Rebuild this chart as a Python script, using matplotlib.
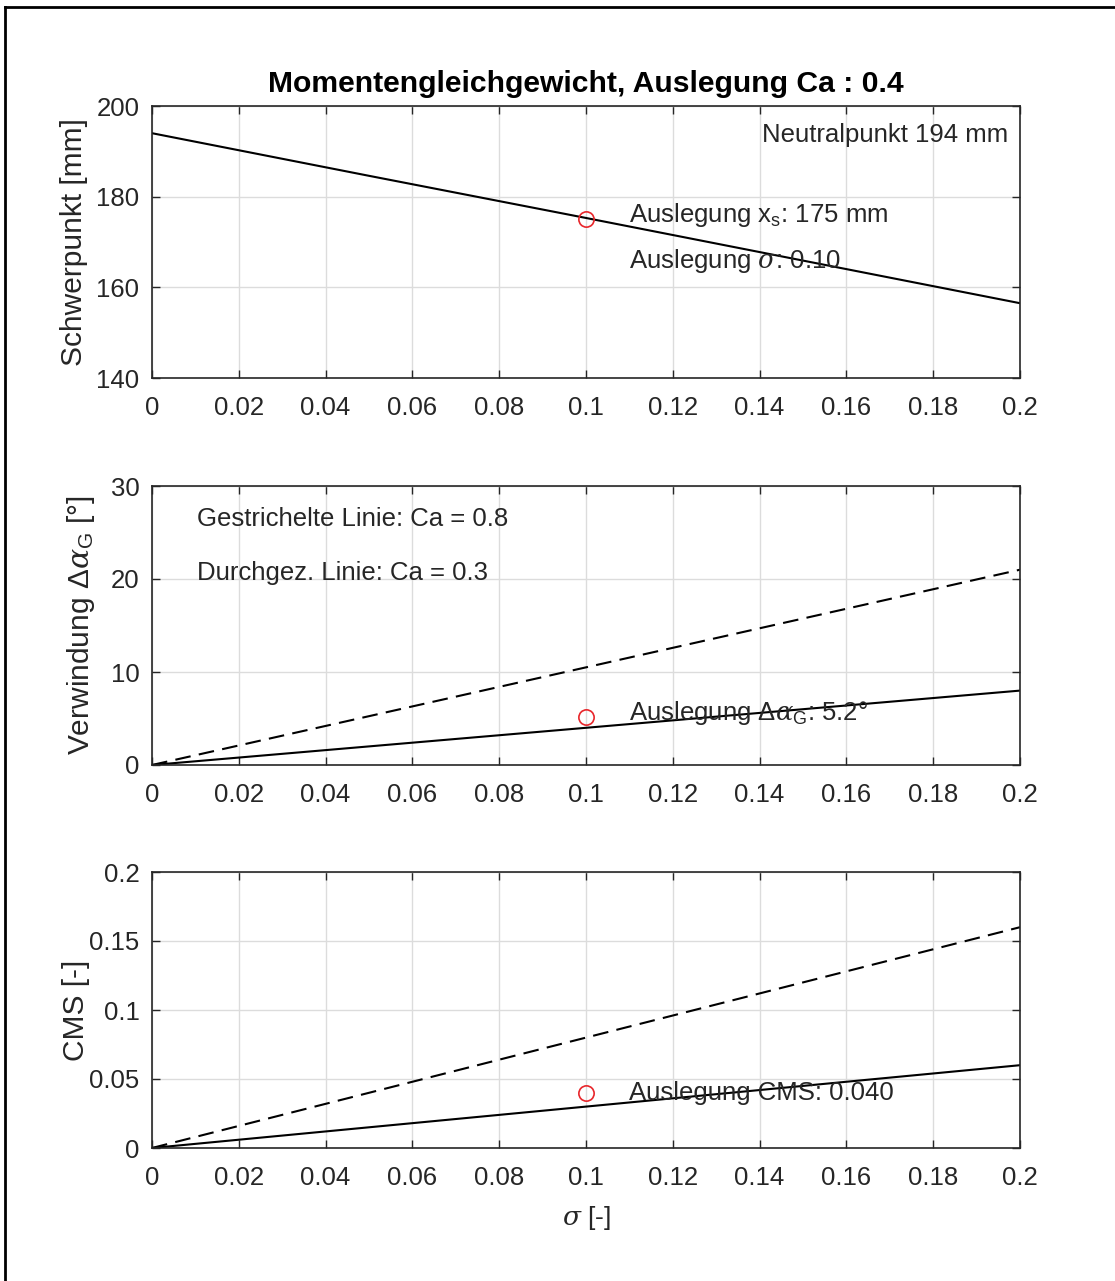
import numpy as np
import matplotlib
matplotlib.use('Agg')
import matplotlib.pyplot as plt
from matplotlib.lines import Line2D
from matplotlib.ticker import FuncFormatter

plt.rcParams['font.family'] = ['Liberation Sans', 'DejaVu Sans']
plt.rcParams['mathtext.fontset'] = 'custom'
plt.rcParams['mathtext.rm'] = 'Liberation Sans'
plt.rcParams['mathtext.sf'] = 'Liberation Sans'
plt.rcParams['mathtext.it'] = 'DejaVu Serif:italic'
plt.rcParams['mathtext.bf'] = 'Liberation Sans:bold'

# data
sigma = [0, 0.05, 0.1, 0.15, 0.2]
schwerpunkt = [194, 184.6, 175.3, 165.9, 156.5]
verw_solid = [0, 2, 4, 6, 8]        # Ca = 0.3
verw_dashed = [0, 5.25, 10.5, 15.75, 21]  # Ca = 0.8
cms_solid = [0, 0.015, 0.03, 0.045, 0.06]
cms_dashed = [0, 0.04, 0.08, 0.12, 0.16]

ausl_sigma = 0.1
ausl_xs = 175
ausl_verw = 5.2
ausl_cms = 0.040
neutralpunkt = 194

xticks = np.arange(0, 0.2001, 0.02)

fg = '#262626'
fs = 18.5
lfs = 21.5

fig = plt.figure(figsize=(11.15, 12.81), dpi=100)
W, H = 1115, 1281

def fmt(v, p):
    return '%g' % round(v, 4)

def make_ax(top, bot):
    ax = fig.add_axes([152 / W, 1 - bot / H, 868 / W, (bot - top) / H])
    ax.set_xlim(0, 0.2)
    ax.set_xticks(xticks)
    ax.xaxis.set_major_formatter(FuncFormatter(fmt))
    ax.yaxis.set_major_formatter(FuncFormatter(fmt))
    ax.grid(True, color='#dcdcdc', lw=1.0)
    ax.set_axisbelow(True)
    ax.tick_params(direction='in', length=6, width=1, colors=fg, labelsize=fs,
                   top=True, right=True)
    ax.tick_params(axis='x', pad=13)
    ax.tick_params(axis='y', pad=9)
    for s in ax.spines.values():
        s.set_color(fg)
        s.set_linewidth(1.2)
    return ax

lw = 1.5
dash = (0, (7.5, 4))

# plot 1
ax1 = make_ax(106, 378)
ax1.plot(sigma, schwerpunkt, color='k', lw=lw)
ax1.plot(ausl_sigma, ausl_xs, 'o', mfc='none', mec='#e8262b', ms=11, mew=1.2)
ax1.set_ylim(140, 200)
ax1.set_yticks([140, 160, 180, 200])
ax1.set_ylabel('Schwerpunkt [mm]', fontsize=lfs, color=fg)
ax1.yaxis.set_label_coords(-0.0737, 0.5)
ax1.set_title('Momentengleichgewicht, Auslegung Ca : 0.4', fontsize=21.7,
              fontweight='bold', color='k', pad=10)
ax1.text(0.1405, 193.6, 'Neutralpunkt %d mm' % neutralpunkt, fontsize=fs,
         color=fg, va='center')
ax1.text(0.110, 176.0, r'Auslegung x$_\mathrm{s}$: %d mm' % ausl_xs, fontsize=fs,
         color=fg, va='center')
ax1.text(0.110, 165.8, r'Auslegung $\sigma$: %.2f' % ausl_sigma, fontsize=fs,
         color=fg, va='center')

# plot 2
ax2 = make_ax(486, 765)
ax2.plot(sigma, verw_dashed, color='k', lw=lw, ls=dash)
ax2.plot(sigma, verw_solid, color='k', lw=lw)
ax2.plot(ausl_sigma, ausl_verw, 'o', mfc='none', mec='#e8262b', ms=11, mew=1.2)
ax2.set_ylim(0, 30)
ax2.set_yticks([0, 10, 20, 30])
ax2.set_ylabel(r'Verwindung $\Delta\alpha_\mathrm{G}$ [°]', fontsize=lfs, color=fg)
ax2.yaxis.set_label_coords(-0.063, 0.5)
ax2.text(0.0104, 26.45, 'Gestrichelte Linie: Ca = 0.8', fontsize=fs, color=fg,
         va='center')
ax2.text(0.0104, 20.6, 'Durchgez. Linie: Ca = 0.3', fontsize=fs, color=fg,
         va='center')
ax2.text(0.110, 5.6, r'Auslegung $\Delta\alpha_\mathrm{G}$: %.1f°' % ausl_verw,
         fontsize=fs, color=fg, va='center')

# plot 3
ax3 = make_ax(872, 1148)
ax3.plot(sigma, cms_dashed, color='k', lw=lw, ls=dash)
ax3.plot(sigma, cms_solid, color='k', lw=lw)
ax3.plot(ausl_sigma, ausl_cms, 'o', mfc='none', mec='#e8262b', ms=11, mew=1.2)
ax3.set_ylim(0, 0.2)
ax3.set_yticks([0, 0.05, 0.1, 0.15, 0.2])
ax3.set_ylabel('CMS [-]', fontsize=lfs, color=fg)
ax3.yaxis.set_label_coords(-0.072, 0.5)
ax3.set_xlabel(r'$\sigma$ [-]', fontsize=19, color=fg, labelpad=10)
ax3.text(0.110, 0.040, 'Auslegung CMS: %.3f' % ausl_cms, fontsize=fs, color=fg,
         va='center')

# frame around the figure (cropped at right and bottom)
fig.add_artist(Line2D([5 / W, 5 / W], [0, 1 - 7 / H], color='k', lw=2,
                      transform=fig.transFigure))
fig.add_artist(Line2D([5 / W, 1], [1 - 7 / H, 1 - 7 / H], color='k', lw=2,
                      transform=fig.transFigure))

fig.savefig('out.png', dpi=100, facecolor='white')
